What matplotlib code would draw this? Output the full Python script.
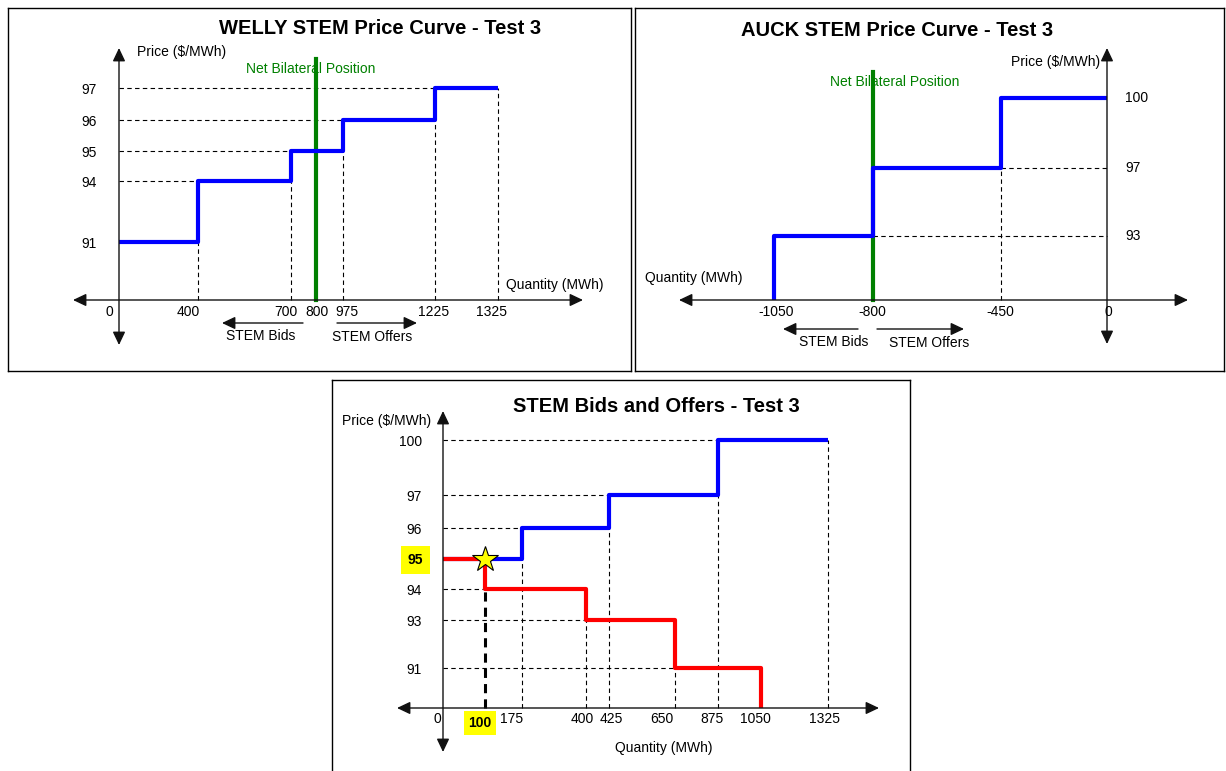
import numpy as np
import matplotlib
matplotlib.use("Agg")
import matplotlib.pyplot as plt
import matplotlib.transforms as mtransforms

plt.rcParams["font.family"] = ["Liberation Sans", "DejaVu Sans"]

# ---- data -------------------------------------------------------------
# WELLY offers (quantity edges / price per step)
welly_qty = [0, 400, 700, 975, 1225, 1325]
welly_price = [91, 94, 95, 96, 97]
welly_nbp = 800
welly_xticks = [0, 400, 700, 800, 975, 1225, 1325]

# AUCK bids (quantity edges / price per step)
auck_qty = [-1050, -800, -450, 0]
auck_price = [93, 97, 100]
auck_nbp = -800

# combined STEM offers / bids
offer_qty = [0, 175, 425, 875, 1325]
offer_price = [95, 96, 97, 100]
bid_qty = [0, 100, 400, 650, 1050]
bid_price = [95, 94, 93, 91]
clear_qty = 100
clear_price = 95
comb_xticks = [0, 175, 400, 425, 650, 875, 1050, 1325]
comb_yticks = [91, 93, 94, 96, 97, 100]

# ---- layout: schematic (non-linear) scales, value -> pixel -------------
W, H = 1226, 771
welly_xmap = ([0, 400, 700, 800, 975, 1225, 1325], [119, 198, 291, 316, 343, 435, 498])
welly_ymap = ([88, 91, 94, 95, 96, 97], [300, 242, 181, 151, 120, 88])
auck_xmap = ([-1050, -800, -450, 0], [774, 873, 1001, 1107])
auck_ymap = ([90, 93, 97, 100], [300, 236, 168, 98])
comb_xmap = ([0, 100, 175, 400, 425, 650, 875, 1050, 1325],
             [443, 485, 522, 586, 609, 675, 718, 761, 828])
comb_ymap = ([90, 91, 93, 94, 95, 96, 97, 100], [708, 668, 620, 589, 559, 528, 495, 440])

# small horizontal nudges (px) of the quantity labels, as in the original sketch
welly_nudge = {0: -10, 400: -10, 700: -5, 800: 1, 975: 4, 1225: -1, 1325: -6}
auck_nudge = {-1050: 2, -800: -1, -450: -1, 0: 1}
comb_nudge = {0: -6, 100: -5, 175: -10, 400: -4, 425: 2, 650: -13, 875: -6,
              1050: -6, 1325: -4}

BLUE, RED, GREEN = "#0000ff", "#ff0000", "#008000"
DASH = dict(color="black", lw=0.8, ls=(0, (4, 3)))
FS = 10
TITLE_FS = 14.5

fig = plt.figure(figsize=(W / 100, H / 100), dpi=100)
px = mtransforms.Affine2D().scale(1 / W, -1 / H).translate(0, 1) + fig.transFigure


def piecewise(xs, ys):
    xs = np.asarray(xs, float)
    ys = np.asarray(ys, float)
    s0 = (ys[1] - ys[0]) / (xs[1] - xs[0])
    s1 = (ys[-1] - ys[-2]) / (xs[-1] - xs[-2])

    def f(v):
        v = np.asarray(v, float)
        out = np.interp(v, xs, ys)
        out = np.where(v < xs[0], ys[0] + (v - xs[0]) * s0, out)
        out = np.where(v > xs[-1], ys[-1] + (v - xs[-1]) * s1, out)
        return out
    return f


def panel(box, xmap, ymap):
    x0, y0, x1, y1 = box
    ax = fig.add_axes([x0 / W, 1 - y1 / H, (x1 - x0) / W, (y1 - y0) / H])
    xv, xp = xmap
    yv, yp = ymap
    ny = [-p for p in yp]
    xf, xi = piecewise(xv, xp), piecewise(xp, xv)
    yf, yi = piecewise(yv, ny), piecewise(ny, yv)
    ax.set_xscale("function", functions=(xf, xi))
    ax.set_yscale("function", functions=(yf, yi))
    ax.set_xlim(float(xi(x0)), float(xi(x1)))
    ax.set_ylim(float(yi(-y1)), float(yi(-y0)))
    ax.set_xticks([])
    ax.set_yticks([])
    for s in ax.spines.values():
        s.set_linewidth(1.0)
        s.set_color("black")
    return ax


def arrow(ax, start, end, both=True, lw=1.0):
    style = "<|-|>" if both else "-|>"
    ax.annotate("", xy=end, xytext=start, xycoords=px, textcoords=px,
                arrowprops=dict(arrowstyle=style + ",head_length=0.8,head_width=0.38",
                                lw=lw, color="#111111", shrinkA=0, shrinkB=0))


def text(ax, x, y, s, **kw):
    kw.setdefault("fontsize", FS)
    ax.text(x, y, s, transform=px, **kw)


def steps(q, p):
    x = np.repeat(np.asarray(q, float), 2)[1:-1]
    y = np.repeat(np.asarray(p, float), 2)
    return x, y


def xlabel(ax, x, base, s, dx=0, dy=-5, **kw):
    ax.annotate(s, xy=(x, base), xytext=(dx, dy), textcoords="offset pixels",
                ha="center", va="top", fontsize=FS, **kw)


def ylabel(ax, y, s, dx=-22, dy=0, ha="right", **kw):
    ax.annotate(s, xy=(0, y), xytext=(dx, dy), textcoords="offset pixels",
                ha=ha, va="center", fontsize=FS, **kw)


# ---- WELLY ------------------------------------------------------------
ax = panel((8, 8, 631, 371), welly_xmap, welly_ymap)
base = welly_ymap[0][0]
for i in range(1, len(welly_price)):
    ax.plot([0, welly_qty[i]], [welly_price[i]] * 2, **DASH)
for i in range(1, len(welly_qty)):
    ax.plot([welly_qty[i]] * 2, [base, welly_price[i - 1]], **DASH)
arrow(ax, (73, 300), (583, 300))
arrow(ax, (119, 345), (119, 48))
ax.plot([welly_nbp] * 2, [0.195, 0.86], color=GREEN, lw=3,
        transform=ax.get_xaxis_transform())
x, y = steps(welly_qty, welly_price)
ax.plot(x, y, color=BLUE, lw=3, solid_capstyle="butt")
for v in welly_price:
    ylabel(ax, v, str(v), dx=-22, dy=-2)
for v in welly_xticks:
    xlabel(ax, v, base, str(v), dx=welly_nudge[v])
text(ax, 380, 28, "WELLY STEM Price Curve - Test 3", fontsize=TITLE_FS,
     fontweight="bold", ha="center", va="center")
text(ax, 137, 52, "Price ($/MWh)", va="center")
text(ax, 246, 69, "Net Bilateral Position", color=GREEN, va="center")
text(ax, 506, 285, "Quantity (MWh)", va="center")
arrow(ax, (303, 323), (222, 323), both=False)
arrow(ax, (337, 323), (417, 323), both=False)
text(ax, 261, 336, "STEM Bids", ha="center", va="center")
text(ax, 372, 337, "STEM Offers", ha="center", va="center")

# ---- AUCK -------------------------------------------------------------
ax = panel((635, 8, 1224, 371), auck_xmap, auck_ymap)
base = auck_ymap[0][0]
for i in range(len(auck_price) - 1):
    ax.plot([auck_qty[i + 1], 0], [auck_price[i]] * 2, **DASH)
for i in range(1, len(auck_qty) - 1):
    ax.plot([auck_qty[i]] * 2, [base, auck_price[i - 1]], **DASH)
arrow(ax, (679, 300), (1188, 300))
arrow(ax, (1107, 344), (1107, 48))
ax.plot([auck_nbp] * 2, [0.195, 0.825], color=GREEN, lw=3,
        transform=ax.get_xaxis_transform())
x, y = steps(auck_qty, auck_price)
ax.plot(np.r_[auck_qty[0], x], np.r_[base, y], color=BLUE, lw=3,
        solid_capstyle="butt")
for v in auck_price:
    ylabel(ax, v, str(v), dx=18, ha="left")
for v in auck_qty:
    xlabel(ax, v, base, str(v), dx=auck_nudge[v])
text(ax, 897, 30, "AUCK STEM Price Curve - Test 3", fontsize=TITLE_FS,
     fontweight="bold", ha="center", va="center")
text(ax, 1100, 62, "Price ($/MWh)", ha="right", va="center")
text(ax, 830, 82, "Net Bilateral Position", color=GREEN, va="center")
text(ax, 645, 278, "Quantity (MWh)", va="center")
arrow(ax, (858, 329), (783, 329), both=False)
arrow(ax, (877, 329), (964, 329), both=False)
text(ax, 834, 342, "STEM Bids", ha="center", va="center")
text(ax, 929, 343, "STEM Offers", ha="center", va="center")

# ---- combined ---------------------------------------------------------
ax = panel((332, 380, 910, 790), comb_xmap, comb_ymap)
base = comb_ymap[0][0]
for i in range(1, len(offer_price)):
    ax.plot([0, offer_qty[i]], [offer_price[i]] * 2, **DASH)
for i in range(1, len(offer_qty)):
    ax.plot([offer_qty[i]] * 2, [base, offer_price[i - 1]], **DASH)
for i in range(1, len(bid_price)):
    ax.plot([0, bid_qty[i]], [bid_price[i]] * 2, **DASH)
for i in range(2, len(bid_qty) - 1):
    ax.plot([bid_qty[i]] * 2, [base, bid_price[i]], **DASH)
ax.plot([clear_qty] * 2, [base, bid_price[1]], color="black", lw=2.2,
        ls=(0, (3, 2)))
arrow(ax, (397, 708), (879, 708))
arrow(ax, (443, 752), (443, 411))
x, y = steps(offer_qty, offer_price)
ax.plot(x, y, color=BLUE, lw=3, solid_capstyle="butt")
x, y = steps(bid_qty, bid_price)
ax.plot(np.r_[x, bid_qty[-1]], np.r_[y, base], color=RED, lw=3,
        solid_capstyle="butt")
ax.plot([clear_qty], [clear_price], marker="*", ms=19, color="#ffff00",
        mec="black", mew=0.8, zorder=5)
for v in comb_yticks:
    ylabel(ax, v, str(v), dx=-21, dy=-2)
ylabel(ax, clear_price, str(clear_price), dx=-20, dy=-1, fontweight="bold",
       bbox=dict(boxstyle="square,pad=0.5", fc="#ffff00", ec="none"))
for v in comb_xticks:
    xlabel(ax, v, base, str(v), dx=comb_nudge[v], dy=-4)
xlabel(ax, clear_qty, base, str(clear_qty), dx=comb_nudge[clear_qty], dy=-8,
       fontweight="bold",
       bbox=dict(boxstyle="square,pad=0.35", fc="#ffff00", ec="none"))
text(ax, 656, 406, "STEM Bids and Offers - Test 3", fontsize=TITLE_FS,
     fontweight="bold", ha="center", va="center")
text(ax, 342, 421, "Price ($/MWh)", va="center")
text(ax, 664, 748, "Quantity (MWh)", ha="center", va="center")

fig.savefig("out.png", dpi=100, facecolor="white")
